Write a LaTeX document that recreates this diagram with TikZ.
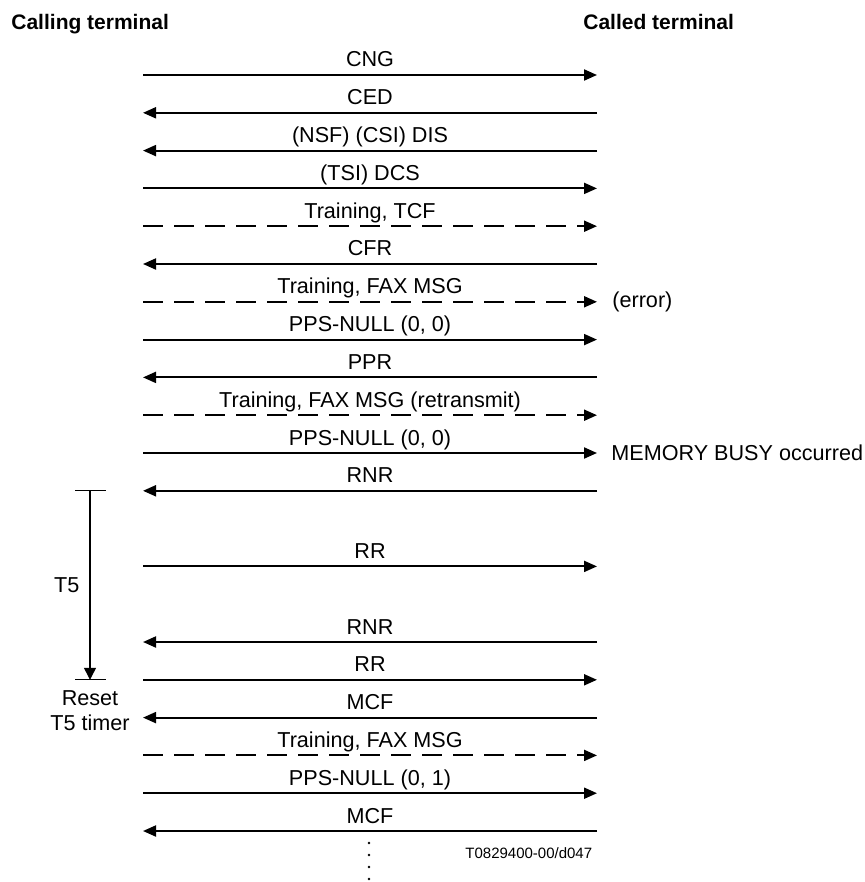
\documentclass[tikz,border=0pt]{standalone}
\usepackage{fontspec}
\setmainfont{Liberation Sans}
\usepackage{tikz}
\usetikzlibrary{
    positioning,
    arrows.meta,
    calc,
}
\tikzset{
    % Message styles
    msg/.style={-{Triangle[length=6.5pt, width=5.5pt]}, line width=1pt},
    train msg/.style={msg, dash pattern=on 10pt off 5.5pt},
    % Timer styles
    timer/.style={line width=0.6pt},
    timer arrow/.style={timer, -{Triangle[length=6pt, width=6pt]}},
    % Annotation styles
    msg label/.style={anchor=base, yshift=4pt, inner sep=0pt},
    side note/.style={anchor=west, inner sep=0pt},
    heading/.style={anchor=base west, inner sep=0pt, font=\fontsize{10.5}{12.6}\selectfont\bfseries},
}

\begin{document}
\begin{tikzpicture}[
    x=0.5pt, y=-0.5pt,
    font=\fontsize{10.8}{12.6}\selectfont,
]
    \useasboundingbox (0,0) rectangle (864,882);

    % Terminals
    \node[heading] (calling) at (11, 29.5) {Calling terminal};
    \node[heading] (called) at (583, 29.5) {Called terminal};

    % Message rows
    \foreach \k in {0,1,2,3,4,5,6,7,8,9,10,11,13,15,16,17,18,19,20} {
        \coordinate (calling\k) at (143, {75+37.8*\k});
        \coordinate (called\k) at (597, {75+37.8*\k});
    }

    % Phase B
    \draw[msg] (calling0) -- node[msg label] {CNG} (called0);
    \draw[msg] (called1) -- node[msg label] {CED} (calling1);
    \draw[msg] (called2) -- node[msg label] {(NSF) (CSI) DIS} (calling2);
    \draw[msg] (calling3) -- node[msg label] {(TSI) DCS} (called3);
    \draw[train msg] (calling4) -- node[msg label] {Training, TCF} (called4);
    \draw[msg] (called5) -- node[msg label] {CFR} (calling5);

    % Phase C/D
    \draw[train msg] (calling6) -- node[msg label] {Training, FAX MSG} (called6);
    \draw[msg] (calling7) -- node[msg label] {PPS-NULL (0, 0)} (called7);
    \draw[msg] (called8) -- node[msg label] {PPR} (calling8);
    \draw[train msg] (calling9) -- node[msg label] {Training, FAX MSG (retransmit)} (called9);
    \draw[msg] (calling10) -- node[msg label] {PPS-NULL (0, 0)} (called10);
    \draw[msg] (called11) -- node[msg label] {RNR} (calling11);
    \draw[msg] (calling13) -- node[msg label] {RR} (called13);
    \draw[msg] (called15) -- node[msg label] {RNR} (calling15);
    \draw[msg] (calling16) -- node[msg label] {RR} (called16);
    \draw[msg] (called17) -- node[msg label] {MCF} (calling17);
    \draw[train msg] (calling18) -- node[msg label] {Training, FAX MSG} (called18);
    \draw[msg] (calling19) -- node[msg label] {PPS-NULL (0, 1)} (called19);
    \draw[msg] (called20) -- node[msg label] {MCF} (calling20);

    % Called side notes
    \node[side note, right=7.5pt of called6] (error) {(error)};
    \node[side note, right=7pt of called10] (busy) {MEMORY BUSY occurred};

    % T5 timer
    \coordinate (t5start) at (90, 490.8);
    \coordinate (t5end) at (90, 679.8);
    \draw[timer] (t5start) ++(-15,0) -- ++(31,0);
    \draw[timer] (t5end) ++(-15,0) -- ++(31,0);
    \draw[timer arrow] (t5start) -- node[left=5pt, inner sep=0pt] (t5) {T5} (t5end);
    \node[below=5pt of t5end, align=center, inner sep=0pt] (reset) {Reset\\T5 timer};

    % Continuation
    \foreach \d in {0,1,2,3}
        \fill (369, {843+12*\d}) circle (0.7pt);
    \node[side note, font=\fontsize{7.5}{9}\selectfont] (figid) at (465, 853) {T0829400-00/d047};
\end{tikzpicture}
\end{document}
